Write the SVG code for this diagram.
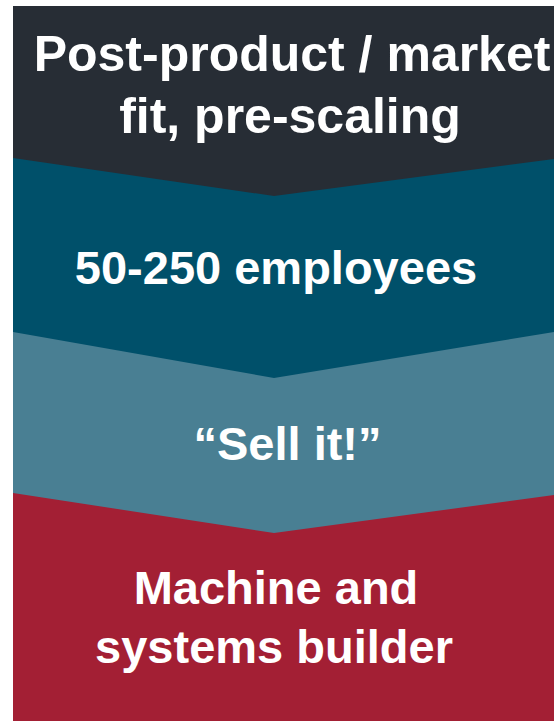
<svg xmlns="http://www.w3.org/2000/svg" width="554" height="721" viewBox="0 0 554 721">
<style>
text{font-family:"Liberation Sans",Arial,sans-serif;font-weight:bold;fill:#ffffff;text-anchor:middle}
.t1{font-size:50px}
.t2{font-size:47px}
</style>
<rect width="554" height="721" fill="#ffffff"/>
<g id="stage4">
<polygon points="13,493 554,493 554,721 13,721" fill="#a31f34"/>
<text class="t2" x="276" y="604">Machine and</text>
<text class="t2" x="274" y="663">systems builder</text>
</g>
<g id="stage3">
<polygon points="13,332 554,332 554,495 274,533 13,493" fill="#497f93"/>
<text class="t2" x="287.5" y="460">“Sell it!”</text>
</g>
<g id="stage2">
<polygon points="13,158 554,158 554,332 274,378 13,332" fill="#00506a"/>
<text class="t2" x="276" y="284">50-250 employees</text>
</g>
<g id="stage1">
<polygon points="13,6 554,6 554,159 274,196 13,158" fill="#272d35"/>
<text class="t1" x="292" y="71">Post-product / market</text>
<text class="t1" x="290" y="133">fit, pre-scaling</text>
</g>
<g id="connectors"/>
</svg>
